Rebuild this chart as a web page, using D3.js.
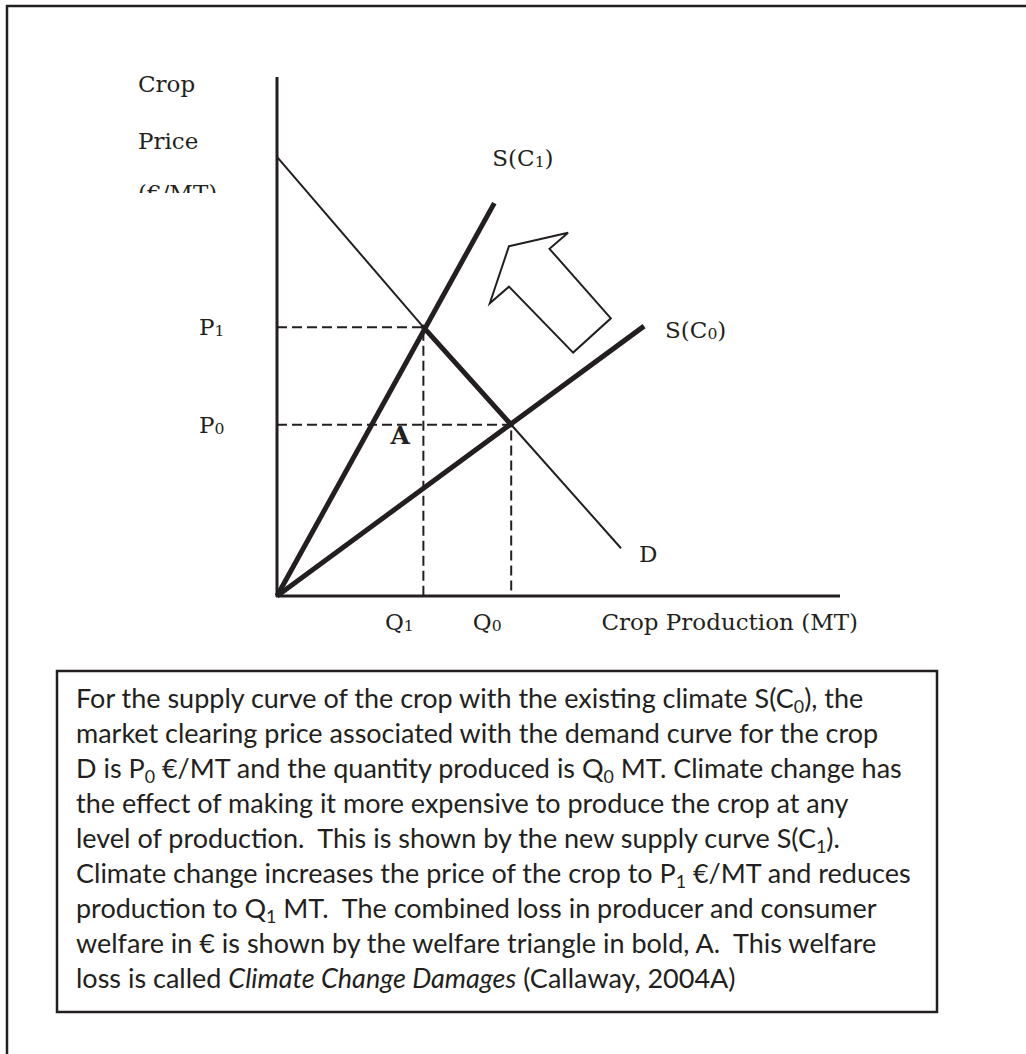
<!DOCTYPE html>
<html>
<head>
<meta charset="utf-8">
<script src="https://cdn.jsdelivr.net/npm/d3@7"></script>
<style>
	html, body { margin: 0; padding: 0; background: #fff; }
	svg { display: block; }
</style>
</head>
<body>
<div id="chart"></div>
<script>
// curves in the diagram's own units (quantity, price)
const demandCurve = [[0, 84.6], [26, 51.8], [41.6, 33.0], [61.1, 9.2]]
const supplyC0 = [[0, 0], [65.2, 52.0]]
const supplyC1 = [[0, 0], [38.6, 75.7]]
// equilibrium points: new climate (1) and existing climate (0)
const equilibria = [
	{ q: 26, p: 51.8, tag: '1' },
	{ q: 41.6, p: 33.0, tag: '0' },
]
// hollow arrow showing the supply shift
const shiftArrow = [[41.2, 67.4], [51.7, 70.0], [48.4, 66.9], [59.3, 53.5], [52.6, 46.9], [41.2, 59.6], [37.8, 56.4]]
const yAxisTitle = ['Crop', 'Price', '(€/MT)']
const xAxisTitle = 'Crop Production (MT)'
// caption, _n = subscript, *..* = italic
const noteLines = [
	'For the supply curve of the crop with the existing climate S(C_0), the',
	'market clearing price associated with the demand curve for the crop',
	'D is P_0 €/MT and the quantity produced is Q_0 MT. Climate change has',
	'the effect of making it more expensive to produce the crop at any',
	'level of production.  This is shown by the new supply curve S(C_1).',
	'Climate change increases the price of the crop to P_1 €/MT and reduces',
	'production to Q_1 MT.  The combined loss in producer and consumer',
	'welfare in € is shown by the welfare triangle in bold, A.  This welfare',
	'loss is called *Climate Change Damages* (Callaway, 2004A)',
]

const width = 1026
const height = 1054
const ink = '#231f20'
const serif = '"DejaVu Serif", "Liberation Serif", serif'
const sans = 'Lato, "Open Sans", sans-serif'

const x = d3.scaleLinear().domain([0, 100]).range([277, 840])
const y = d3.scaleLinear().domain([0, 100]).range([596, 77])
const line = d3.line().x(d => x(d[0])).y(d => y(d[1]))

const svg = d3.select('#chart').append('svg').attr('width', width).attr('height', height)

// page frame (open on the right and bottom)
svg.append('path')
	.attr('d', `M7,${height} V6 H${width}`)
	.attr('fill', 'none').attr('stroke', ink).attr('stroke-width', 2.5)

const g = svg.append('g')

//axes
g.append('line')
	.attr('x1', x(0)).attr('x2', x(0)).attr('y1', y(0) + 1).attr('y2', y(100))
	.attr('stroke', ink).attr('stroke-width', 3)
g.append('line')
	.attr('x1', x(0) - 1).attr('x2', x(100)).attr('y1', y(0)).attr('y2', y(0))
	.attr('stroke', ink).attr('stroke-width', 3)

// dashed guides to the axes
equilibria.forEach(e => {
	g.append('path')
		.attr('d', `M${x(0)},${y(e.p)} H${x(e.q)} V${y(0)}`)
		.attr('fill', 'none').attr('stroke', ink).attr('stroke-width', 2)
		.attr('stroke-dasharray', '10,5')
})

// demand: thin, bold between the two equilibria
g.append('path').attr('d', line(demandCurve.slice(0, 2)))
	.attr('stroke', ink).attr('stroke-width', 2).attr('fill', 'none')
g.append('path').attr('d', line(demandCurve.slice(1, 3)))
	.attr('stroke', ink).attr('stroke-width', 5).attr('fill', 'none').attr('stroke-linecap', 'round')
g.append('path').attr('d', line(demandCurve.slice(2)))
	.attr('stroke', ink).attr('stroke-width', 2).attr('fill', 'none')

// supply curves
;[supplyC0, supplyC1].forEach(s => {
	g.append('path').attr('d', line(s))
		.attr('stroke', ink).attr('stroke-width', 5).attr('fill', 'none')
})

g.append('path')
	.attr('d', line(shiftArrow) + 'Z')
	.attr('fill', '#fff').attr('stroke', ink).attr('stroke-width', 2).attr('stroke-linejoin', 'miter')

// labels
const label = (px, py, main, sub, opts = {}) => {
	const t = g.append('text')
		.attr('x', px).attr('y', py)
		.attr('font-family', serif).attr('font-size', opts.size || 23)
		.attr('font-weight', opts.weight || 'normal')
		.attr('text-anchor', opts.anchor || 'start')
		.attr('fill', ink)
	t.append('tspan').text(main)
	if (sub) {
		t.append('tspan').attr('font-size', '0.68em').attr('dy', 1).text(sub)
		if (opts.tail) t.append('tspan').attr('dy', -1).text(opts.tail)
	}
	return t
}

label(138, 92, yAxisTitle[0])
label(138, 149, yAxisTitle[1])
svg.append('clipPath').attr('id', 'ytitle-clip')
	.append('rect').attr('x', 130).attr('y', 170).attr('width', 96).attr('height', 23)
label(138, 201, yAxisTitle[2]).attr('clip-path', 'url(#ytitle-clip)')

label(x(100) + 18, 630, xAxisTitle, null, { anchor: 'end' })

equilibria.forEach(e => {
	label(199, y(e.p) + 8, 'P', e.tag)
	label(x(e.q) - 24, 630, 'Q', e.tag, { anchor: 'middle' })
})

const s1End = supplyC1[supplyC1.length - 1]
const s0End = supplyC0[supplyC0.length - 1]
const dEnd = demandCurve[demandCurve.length - 1]
label(x(s1End[0]) - 2, y(s1End[1]) - 37, 'S(C', '1', { tail: ')' })
label(x(s0End[0]) + 21, y(s0End[1]) + 12, 'S(C', '0', { tail: ')' })
label(x(dEnd[0]) + 18, y(dEnd[1]) + 14, 'D')
label(x(equilibria[0].q) - 33, y(equilibria[1].p) + 19, 'A', null, { weight: 'bold', size: 25 })

// caption box
svg.append('rect')
	.attr('x', 57).attr('y', 671).attr('width', 880).attr('height', 341)
	.attr('fill', 'none').attr('stroke', ink).attr('stroke-width', 2.5)

const note = svg.append('g').attr('font-family', sans).attr('fill', ink).attr('font-size', 25)

const writeLine = (sel, str) => {
	const parts = str.split(/(_\d|\*[^*]+\*)/).filter(p => p.length)
	let shifted = false
	parts.forEach(p => {
		const ts = sel.append('tspan')
		if (p[0] === '_') {
			ts.attr('font-size', '0.66em').attr('dy', 5).text(p.slice(1))
			shifted = true
		} else {
			if (shifted) { ts.attr('dy', -5); shifted = false }
			if (p[0] === '*') ts.attr('font-style', 'italic').text(p.slice(1, -1))
			else ts.text(p)
		}
	})
}

const rows = noteLines.map((str, i) => {
	const t = note.append('text')
		.attr('x', 76).attr('y', 708 + i * 35)
		.attr('xml:space', 'preserve').style('white-space', 'pre')
	writeLine(t, str)
	return t
})

// fit the caption font so the widest line ends where it does in the print
const widest = rows[5].node().getComputedTextLength()
note.attr('font-size', 25 * 835 / widest)
</script>
</body>
</html>
